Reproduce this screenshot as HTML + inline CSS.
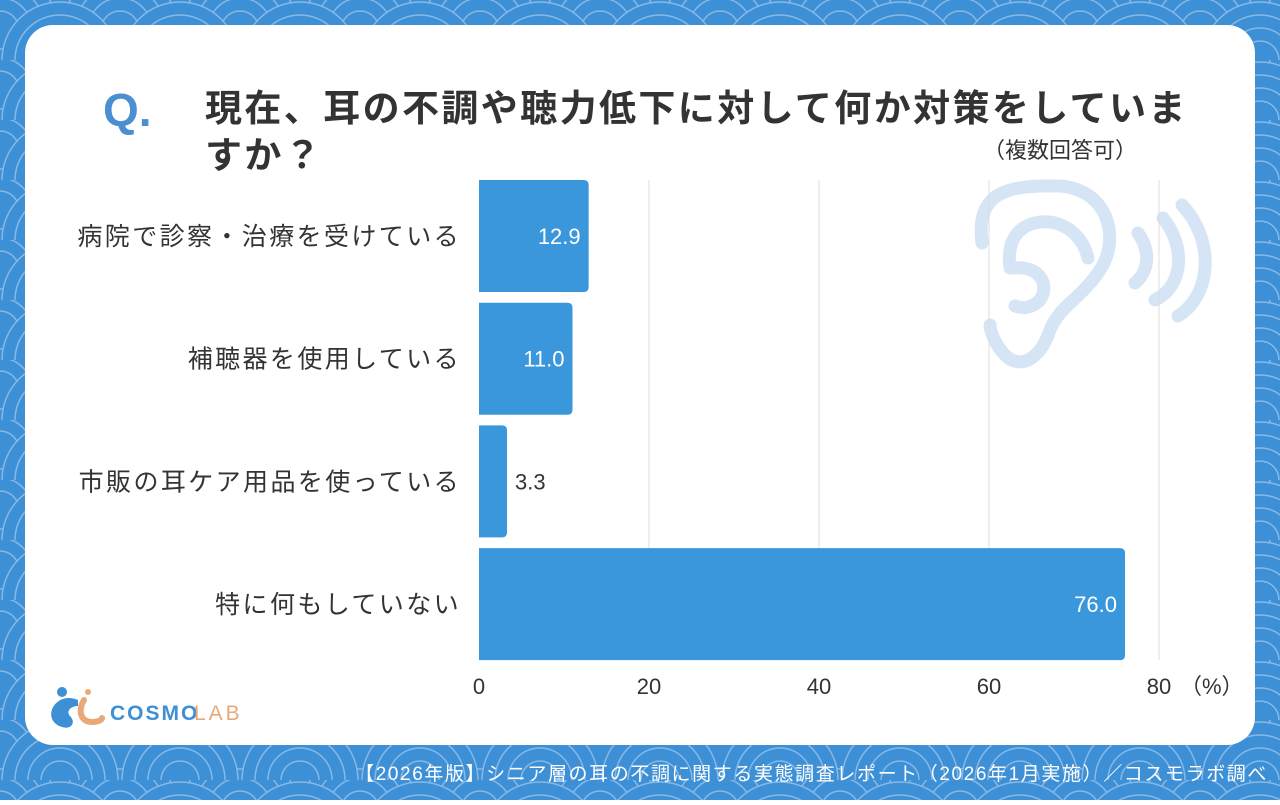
<!DOCTYPE html>
<html><head><meta charset="utf-8"><style>
body{margin:0;width:1280px;height:800px;overflow:hidden;font-family:"Liberation Sans","Noto Sans CJK JP",sans-serif;}
</style></head><body>
<svg width="1280" height="800" xmlns="http://www.w3.org/2000/svg">
<defs>
<pattern id="wave" width="120" height="60" patternUnits="userSpaceOnUse">
<rect width="120" height="60" fill="#3d8fd6"/>
<g fill="#3d8fd6" stroke="#86b9e6" stroke-width="1.5">
<circle cx="0" cy="30" r="58"/><circle cx="0" cy="30" r="45"/><circle cx="0" cy="30" r="32"/><circle cx="0" cy="30" r="19"/>
<circle cx="120" cy="30" r="58"/><circle cx="120" cy="30" r="45"/><circle cx="120" cy="30" r="32"/><circle cx="120" cy="30" r="19"/>
<circle cx="60" cy="60" r="58"/><circle cx="60" cy="60" r="45"/><circle cx="60" cy="60" r="32"/><circle cx="60" cy="60" r="19"/>
</g>
</pattern>
</defs>
<rect width="1280" height="800" fill="url(#wave)"/>
<rect x="25" y="25" width="1230" height="720" rx="28" fill="#fff"/>
<text x="103" y="126" font-size="46" font-weight="bold" fill="#4a8fd0">Q.</text>
<text x="205" y="121" font-size="37" font-weight="bold" letter-spacing="2.4" fill="#333">現在、耳の不調や聴力低下に対して何か対策をしていま</text>
<text x="205" y="168" font-size="37" font-weight="bold" letter-spacing="2.4" fill="#333">すか？</text>
<text x="983" y="158" font-size="22" fill="#333">（複数回答可）</text>
<g id="ear" fill="none" stroke="#d6e5f5" stroke-width="13" stroke-linecap="round">
<path d="M982 243 C975 190 1010 185 1060 186 C1110 190 1120 240 1100 270 C1080 300 1060 305 1050 330 C1040 360 1020 370 1005 355 C995 345 990 330 990 325"/>
<path d="M1010 268 C1005 230 1030 220 1050 222 C1075 226 1085 245 1088 258"/>
<path d="M1013 268 C1040 265 1050 285 1040 300 C1030 310 1020 308 1015 306"/>
<path d="M1138 233 C1150 250 1150 270 1135 283"/>
<path d="M1163 218 C1185 245 1185 285 1155 300"/>
<path d="M1182 205 C1215 240 1212 295 1178 316"/>
</g>
<g id="grid"></g>
<g id="bars"></g>
<g id="labels"></g>
<g id="ticks"></g>
<text x="1180" y="694" font-size="22" fill="#333">（%）</text>
<g>
<circle cx="62" cy="692" r="5" fill="#3d8fd6"/>
<circle cx="88" cy="692" r="3" fill="#e8a878"/>
<path d="M78 700 C55 690 40 720 62 727 C72 730 76 722 70 716 C66 712 70 706 78 706 Z" fill="#3d8fd6"/>
<path d="M84 700 C78 710 80 722 92 722 C98 722 102 720 102 718" fill="none" stroke="#e8a878" stroke-width="6" stroke-linecap="round"/>
<text x="110" y="720" font-size="21" font-weight="bold" letter-spacing="2" fill="#3d8fd6">COSMO</text>
<text x="194" y="720" font-size="21" letter-spacing="3" fill="#e8a878">LAB</text>
</g>
<text x="1268" y="780" font-size="19" letter-spacing="1.6" fill="#fff" text-anchor="end">【2026年版】シニア層の耳の不調に関する実態調査レポート（2026年1月実施）／コスモラボ調べ</text>
</svg>
<script>
const categories=["病院で診察・治療を受けている","補聴器を使用している","市販の耳ケア用品を使っている","特に何もしていない"];
const values=[12.9,11.0,3.3,76.0];
const ticks=[0,20,40,60,80];
const NS="http://www.w3.org/2000/svg";
const x0=479,x1=1159,vmax=80,yTop=180,step=122.7,bh=112;
const xs=v=>x0+(x1-x0)*v/vmax;
function mk(t,a,p){const e=document.createElementNS(NS,t);for(const k in a)e.setAttribute(k,a[k]);p.appendChild(e);return e;}
const grid=document.getElementById('grid'),bars=document.getElementById('bars'),labels=document.getElementById('labels'),tk=document.getElementById('ticks');
ticks.forEach(t=>{
  if(t>0){const l=mk('line',{x1:xs(t),x2:xs(t),y1:180,y2:660,stroke:'#dcdcdc','stroke-width':1},grid);
  
  }
  const tx=mk('text',{x:xs(t),y:694,'font-size':22,fill:'#333','text-anchor':'middle'},tk);
  tx.textContent=t;
  
  
});
categories.forEach((c,i)=>{
  const y=yTop+i*step;
  const w=xs(values[i])-x0;
  const r=mk('path',{d:`M${x0} ${y} H${x0+w-5} Q${x0+w} ${y} ${x0+w} ${y+5} V${y+bh-5} Q${x0+w} ${y+bh} ${x0+w-5} ${y+bh} H${x0} Z`,fill:'#3a97dc'},bars);
  
  
  const inside=values[i]>8;
  const v=mk('text',{x:inside?x0+w-8:x0+w+8,y:y+bh/2+8,'font-size':22,fill:inside?'#fff':'#333','text-anchor':inside?'end':'start'},labels);
  v.textContent=values[i].toFixed(1);
  
  
  const l=mk('text',{x:461,y:y+bh/2+9,'font-size':25,'letter-spacing':2.4,fill:'#333','text-anchor':'end'},labels);
  l.textContent=c;
  
  
});
</script>
</body></html>
